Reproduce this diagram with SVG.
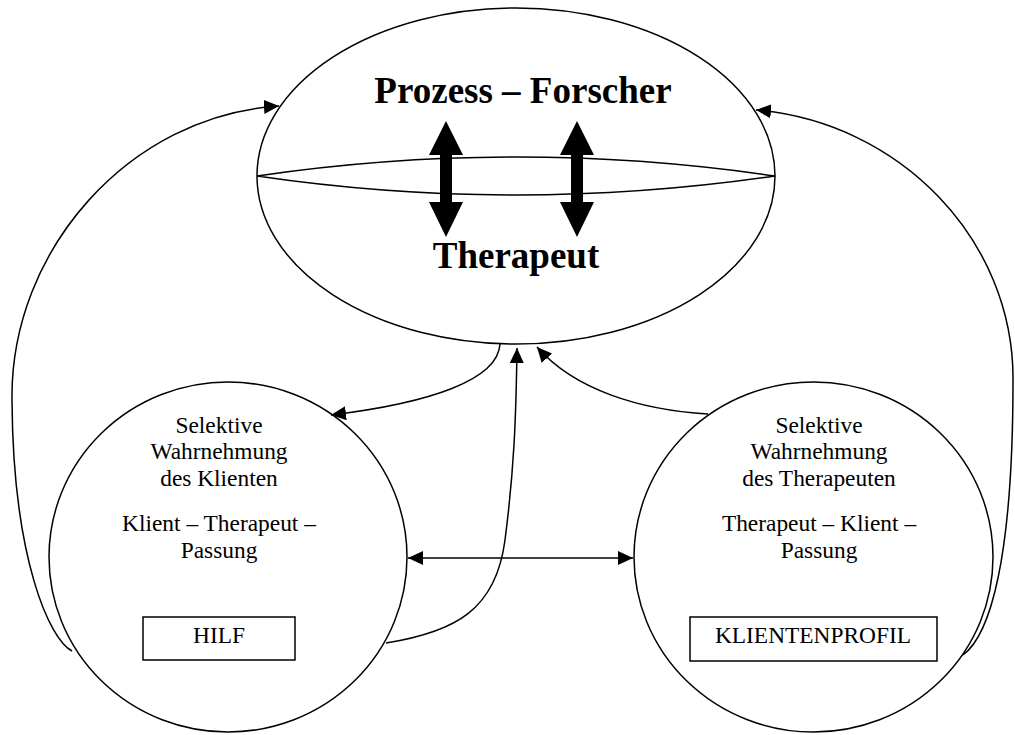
<svg xmlns="http://www.w3.org/2000/svg" width="1015" height="735" viewBox="0 0 1015 735">
  <style>
    .ln { fill: none; stroke: #000; stroke-width: 1.5; }
    .shape { fill: #fff; stroke: #000; stroke-width: 1.5; }
    .big { fill: #000; }
    .t { font-family: "Liberation Serif", "Times New Roman", serif; font-size: 23.4px; fill: #000; text-anchor: middle; }
    .tb { font-family: "Liberation Serif", "Times New Roman", serif; font-size: 37px; font-weight: bold; fill: #000; text-anchor: middle; }
  </style>
  <defs>
    <marker id="ah" viewBox="0 0 15 14" refX="15" refY="7" markerWidth="15" markerHeight="14" markerUnits="userSpaceOnUse" orient="auto-start-reverse">
      <path d="M0,0 L15,7 L0,14 z" fill="#000"/>
    </marker>
  </defs>

  <rect width="1015" height="735" fill="#fff"/>

  <!-- upper node: researcher / therapist -->
  <g id="node-top">
    <ellipse class="shape" cx="516" cy="176" rx="259" ry="168"/>
    <path class="ln" d="M257,176 Q516,138 775,176 Q516,214 257,176 Z"/>
    <path class="big" d="M446,121 L463,155 L452,155 L452,202 L463,202 L446,237 L429,202 L440,202 L440,155 L429,155 Z"/>
    <path class="big" d="M577,121 L594,155 L583,155 L583,202 L594,202 L577,237 L560,202 L571,202 L571,155 L560,155 Z"/>
    <text class="tb" x="523" y="103">Prozess – Forscher</text>
    <text class="tb" x="516" y="268">Therapeut</text>
  </g>

  <!-- lower left node: client -->
  <g id="node-left">
    <ellipse class="shape" cx="228" cy="557" rx="179" ry="175"/>
    <text class="t" x="219" y="433">Selektive</text>
    <text class="t" x="219" y="459">Wahrnehmung</text>
    <text class="t" x="219" y="486">des Klienten</text>
    <text class="t" x="219" y="531">Klient – Therapeut –</text>
    <text class="t" x="219" y="558">Passung</text>
    <rect class="shape" x="143" y="617" width="152" height="43"/>
    <text class="t" x="219" y="643">HILF</text>
  </g>

  <!-- lower right node: therapist -->
  <g id="node-right">
    <ellipse class="shape" cx="813.5" cy="557" rx="179.5" ry="175"/>
    <text class="t" x="819" y="433">Selektive</text>
    <text class="t" x="819" y="459">Wahrnehmung</text>
    <text class="t" x="819" y="486">des Therapeuten</text>
    <text class="t" x="819" y="531">Therapeut – Klient –</text>
    <text class="t" x="819" y="558">Passung</text>
    <rect class="shape" x="690" y="617" width="247" height="44"/>
    <text class="t" x="813" y="643">KLIENTENPROFIL</text>
  </g>

  <!-- connectors -->
  <g id="connectors">
    <path class="ln" marker-end="url(#ah)" d="M72,651 C50,640 13,560 12,400 C10,250 130,115 279,106"/>
    <path class="ln" marker-end="url(#ah)" d="M963,655 C990,635 1013,560 1013,380 C1014,240 900,122 756,110"/>
    <path class="ln" marker-end="url(#ah)" d="M500,344 C498,380 430,403 331,415"/>
    <path class="ln" marker-end="url(#ah)" d="M386,643 C455,632 496,610 505,540 S516,420 517,348"/>
    <path class="ln" marker-end="url(#ah)" d="M708,414 C640,410 575,390 537,347"/>
    <path class="ln" marker-start="url(#ah)" marker-end="url(#ah)" d="M408,558 L633,558"/>
  </g>
</svg>
